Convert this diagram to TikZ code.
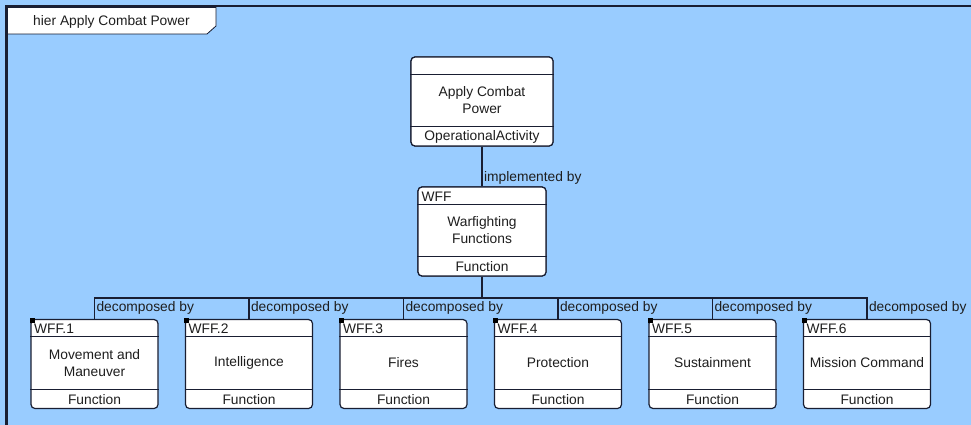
\documentclass[tikz,border=0pt]{standalone}
\usepackage{fontspec}
\setmainfont{Liberation Sans}
\usetikzlibrary{positioning}
\usetikzlibrary{calc}

\definecolor{diagbg}{RGB}{153,204,255}
\definecolor{edge}{RGB}{25,30,50}
\definecolor{ink}{RGB}{30,30,30}

\tikzset{
  block/.style={draw=edge, line width=1.2pt, fill=white, rounded corners=4pt, minimum width=128pt, minimum height=89pt, inner sep=0pt},
  lab/.style={text=ink, inner sep=0pt},
  conn/.style={draw=edge, line width=1.1pt},
  divider/.style={draw=edge, line width=1pt},
}

\begin{document}
\begin{tikzpicture}[x=1pt, y=-1pt, font=\fontsize{13.8}{17}\selectfont]
	% Canvas and diagram frame
	\useasboundingbox (0,0) rectangle (971,425);
	\fill[diagbg] (0,0) rectangle (971,425);
	\draw[edge, line width=2.5pt] (6.5,425) -- (6.5,6) -- (971,6);
	\draw[edge, line width=0.8pt, fill=white] (8,7.5) -- (216,7.5) -- (216,26) -- (207,34) -- (8,34);
	\node[lab, anchor=base west] (title) at (33,26) {hier Apply Combat Power};

	% Set the header and footer heights of a block
	\def\head{18pt}
	\def\foot{20pt}

	% Activity and function blocks
	\node[block, minimum width=142pt] (act) at (482,101.5) {};
	\node[block] (wff) at (482,231.5) {};
	\coordinate (bus) at (0,298);

	% Connectors
	\draw[conn] (act.south) -- (wff.north) node[lab, anchor=base west, xshift=1.5pt, yshift=5pt] {implemented by};
	\foreach \i in {1,...,6} {
		\node[block, minimum width=127pt] (f\i) at ({94.5+154.5*(\i-1)},364) {};
	}
	\foreach \i in {1,...,6} {
		\draw[conn] (wff.south) -- (wff.south |- bus) -| (f\i.north) node[lab, anchor=base west, xshift=1.5pt, yshift=7pt] {decomposed by};
	}

	% Redraw the blocks on top of the connectors
	\node[block, minimum width=142pt] at (act) {};
	\node[block] at (wff) {};
	\foreach \b in {act,wff,f1,f2,f3,f4,f5,f6} {
		\draw[divider] ([yshift=-\head]\b.north west) -- ([yshift=-\head]\b.north east);
		\draw[divider] ([yshift=\foot]\b.south west) -- ([yshift=\foot]\b.south east);
	}

	\node[lab, align=center] (actname) at ([yshift=1pt]act.center) {Apply Combat\\Power};
	\node[lab] (acttype) at ([yshift=10pt]act.south) {OperationalActivity};

	\node[lab, anchor=base west] (wffid) at ([xshift=4pt, yshift=-15pt]wff.north west) {WFF};
	\node[lab, align=center] (wffname) at ([yshift=1pt]wff.center) {Warfighting\\Functions};
	\node[lab] (wfftype) at ([yshift=10pt]wff.south) {Function};

	\foreach \i/\name in {1/{Movement and\\Maneuver}, 2/Intelligence, 3/Fires, 4/Protection, 5/Sustainment, 6/Mission Command} {
		\fill[black] ([xshift=-0.5pt, yshift=0.5pt]f\i.north west) rectangle ++(5,5);
		\node[lab, anchor=base west] (f\i id) at ([xshift=3.5pt, yshift=-15pt]f\i.north west) {WFF.\i};
		\node[lab, align=center] (f\i name) at ([yshift=1pt]f\i.center) {\name};
		\node[lab] (f\i type) at ([yshift=10pt]f\i.south) {Function};
	}
\end{tikzpicture}
\end{document}
